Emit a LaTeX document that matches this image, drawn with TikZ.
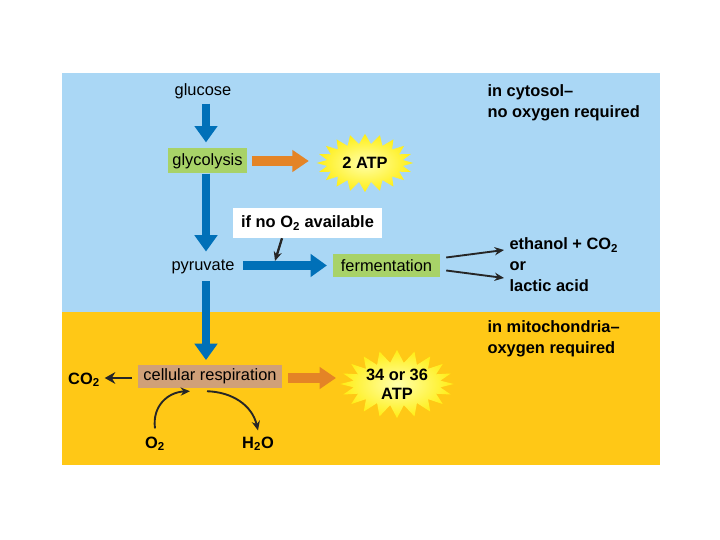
\documentclass[tikz,border=0pt]{standalone}
\usepackage{fontspec}
\setmainfont{Liberation Sans}
\usetikzlibrary{arrows.meta,shapes.symbols,calc}
\definecolor{panelblue}{RGB}{170,215,245}
\definecolor{panelyellow}{RGB}{255,200,22}
\definecolor{flowblue}{RGB}{0,112,184}
\definecolor{atporange}{RGB}{228,132,38}
\definecolor{boxgreen}{RGB}{168,210,104}
\definecolor{boxtan}{RGB}{208,160,120}
\definecolor{burstyellow}{RGB}{255,238,20}
\definecolor{burstcore}{RGB}{255,255,170}
\tikzset{
  lbl/.style={inner sep=2pt, font=\fontsize{14}{17}\selectfont},
  boldlbl/.style={inner sep=2pt, font=\fontsize{14}{18}\selectfont\bfseries, align=left},
  stagebox/.style={inner sep=0pt, font=\fontsize{14}{17}\selectfont},
  burst/.style={starburst, starburst points=20, random starburst=0,
    shading=radial, inner color=burstcore, outer color=burstyellow, draw=none,
    inner sep=0pt, align=center, font=\fontsize{14}{16}\selectfont\bfseries},
  bluearrow/.style={draw=flowblue, line width=7pt, -{Triangle[width=19pt,length=14pt]}},
  orangearrow/.style={draw=atporange, line width=8pt, -{Triangle[width=18pt,length=14pt]}},
  blackarrow/.style={draw=black!85, line width=1.6pt, -{Stealth[width=7pt,length=8pt]}},
}
\begin{document}
\begin{tikzpicture}[x=0.03cm,y=-0.03cm]
\useasboundingbox (0,0) rectangle (720,540);
\fill[white] (0,0) rectangle (720,540);
\fill[panelblue] (62,73) rectangle (660,312);
\fill[panelyellow] (62,312) rectangle (660,465);
\coordinate (spine) at (206,0);

% nodes
\node[lbl] (glucose) at (203,91) {glucose};
\node[stagebox, fill=boxgreen, minimum width=2.37cm, minimum height=0.75cm] (glyco) at (207.5,161) {glycolysis};
\node[burst, starburst point height=0.3cm, minimum width=2.9cm, minimum height=1.75cm] (atp2) at (365,163) {2 ATP};
\node[boldlbl, fill=white, minimum width=4.47cm, minimum height=0.9cm, inner sep=0pt, align=center] (ifno) at (307.5,223) {if no O\textsubscript{2} available};
\node[lbl] (pyr) at (203,267) {pyruvate};
\node[stagebox, fill=boxgreen, minimum width=3.21cm, minimum height=0.68cm] (ferm) at (386.5,265.5) {fermentation};
\node[boldlbl, anchor=west] (prod) at (507,265) {ethanol + CO\textsubscript{2}\\or\\lactic acid};
\node[boldlbl, anchor=west] (cyt) at (485,103) {in cytosol--\\no oxygen required};
\node[boldlbl, anchor=west] (mito) at (485,339) {in mitochondria--\\oxygen required};
\node[stagebox, fill=boxtan, minimum width=4.32cm, minimum height=0.69cm] (cell) at (210,376.5) {cellular respiration};
\node[boldlbl] (co2) at (84,380) {CO\textsubscript{2}};
\node[burst, starburst point height=0.38cm, minimum width=3.3cm, minimum height=1.95cm] (atp34) at (397,384) {34 or 36\\ATP};
\node[boldlbl] (o2) at (155,444) {O\textsubscript{2}};
\node[boldlbl] (h2o) at (258,444) {H\textsubscript{2}O};

% blue flow
\draw[bluearrow, shorten <=2pt, shorten >=5pt] (glucose.south -| spine) -- (glyco.north -| spine);
\draw[bluearrow, shorten >=5pt] (glyco.south -| spine) -- (pyr.north -| spine);
\draw[bluearrow, shorten <=4pt, shorten >=4pt] (pyr.south -| spine) -- (cell.north -| spine);
\draw[bluearrow, shorten <=5pt, shorten >=5pt] (pyr.east |- ferm.west) -- (ferm.west);

% ATP arrows
\draw[orangearrow, shorten <=4pt, shorten >=6pt] (glyco.east) -- (glyco.east -| atp2.west);
\draw[orangearrow, shorten <=5pt, shorten >=3pt] (cell.east) ++(0,1.5) -- ($(cell.east -| atp34.west)+(0,1.5)$);

% black arrows
\draw[blackarrow, line width=2pt] ([xshift=-0.765cm]ifno.south) -- (275,261);
\draw[blackarrow] ($(ferm.east)+(6,-8)$) -- ($(prod.west)+(-3,-15)$);
\draw[blackarrow] ($(ferm.east)+(6,5)$) -- ($(prod.west)+(-3,13)$);
\draw[blackarrow, -{Stealth[width=10pt,length=9pt]}, shorten <=5pt, shorten >=2pt] (cell.west) ++(0,1.5) -- ($(co2.east)+(0,-2)$);
\draw[blackarrow] ($(o2.north)+(0,-6)$) .. controls (152,406) and (168,392) .. ($(cell.south)+(-20,3)$);
\draw[blackarrow] ($(cell.south)+(-3,3)$) .. controls (232,392) and (252,405) .. ($(h2o.north)+(0,-4)$);
\end{tikzpicture}
\end{document}
